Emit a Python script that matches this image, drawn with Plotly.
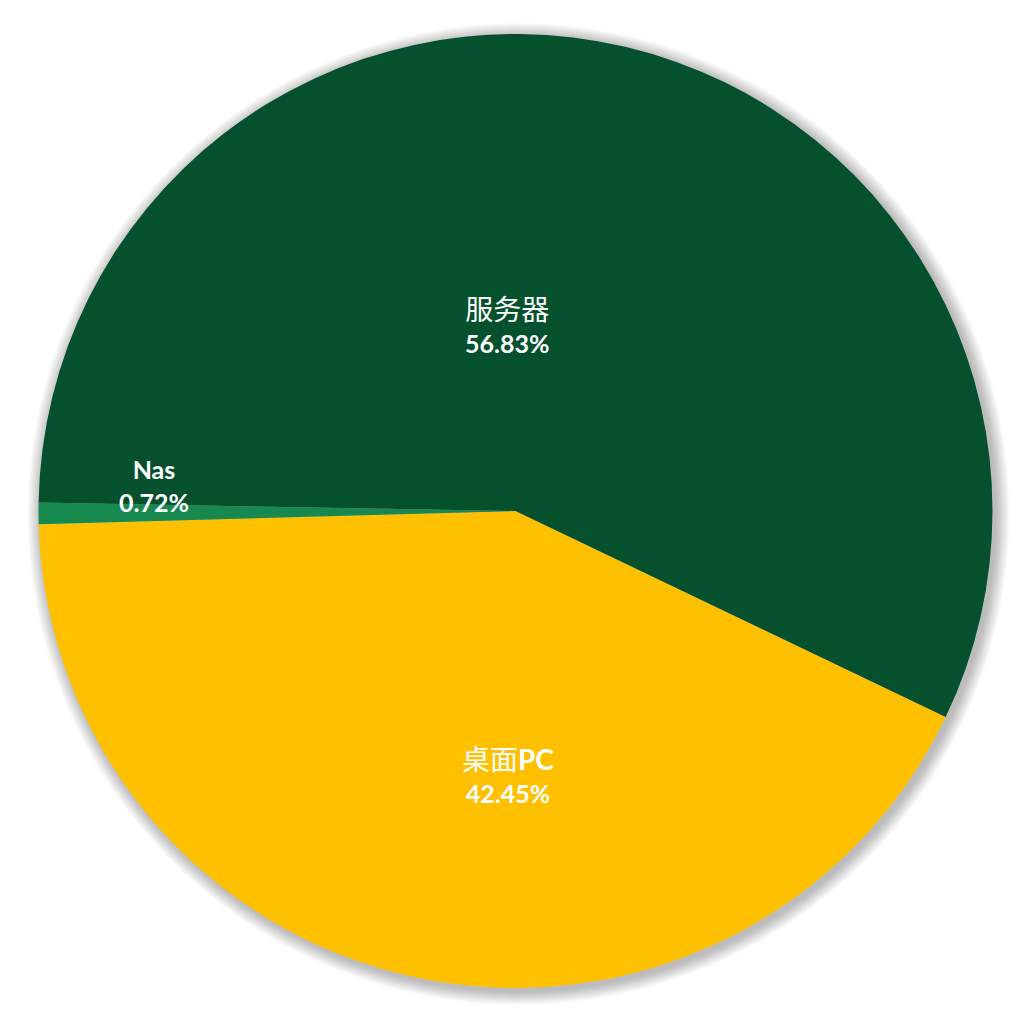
import plotly.graph_objects as go

# Device type share (Excel-style pie)
labels = ["桌面PC", "Nas", "服务器"]
values = [42.45, 0.72, 56.83]
colors = ["#FFC000", "#17894F", "#05512D"]

# label text blocks (CJK name, bold number)
label_text = [
    "<span style='font-size:28px'>桌面<b>PC</b></span><br><b>42.45%</b>",
    "<b>Nas</b><br><b>0.72%</b>",
    "<span style='font-size:28px'>服务器</span><br><b>56.83%</b>",
]
# label centres in page pixels
label_px = [(508, 775), (154, 485), (507, 325)]

# page has an 8px body margin around the plot div
OFF = 8
W, H = 1011, 1016
CX, CY, R = 515.5 - OFF, 511.0 - OFF, 477.0

fig = go.Figure(
    go.Pie(
        labels=labels,
        values=values,
        sort=False,
        direction="clockwise",
        rotation=115.6,
        marker=dict(colors=colors, line=dict(width=0)),
        textinfo="none",
        hoverinfo="label+percent",
        domain=dict(x=[(CX - R) / W, (CX + R) / W], y=[1 - (CY + R) / H, 1 - (CY - R) / H]),
        showlegend=False,
    )
)

# soft drop shadow behind the pie
shapes = []
for i in range(1, 15):
    rr = R + i
    shapes.append(
        dict(
            type="circle",
            xref="paper",
            yref="paper",
            x0=(CX + 3 - rr) / W,
            x1=(CX + 3 + rr) / W,
            y0=1 - (CY + 3 + rr) / H,
            y1=1 - (CY + 3 - rr) / H,
            fillcolor="rgba(0,0,0,0.018)",
            line=dict(width=0),
            layer="below",
        )
    )

annotations = [
    dict(
        x=(px - OFF) / W,
        y=1 - (py - OFF) / H,
        xref="paper",
        yref="paper",
        xanchor="center",
        yanchor="middle",
        text=t,
        showarrow=False,
        align="center",
        font=dict(family="Lato, 'Noto Sans CJK SC'", size=25, color="white"),
    )
    for t, (px, py) in zip(label_text, label_px)
]

fig.update_layout(
    width=W,
    height=H,
    margin=dict(l=0, r=0, t=0, b=0),
    paper_bgcolor="white",
    plot_bgcolor="white",
    shapes=shapes,
    annotations=annotations,
)

fig.write_html("out.html")
